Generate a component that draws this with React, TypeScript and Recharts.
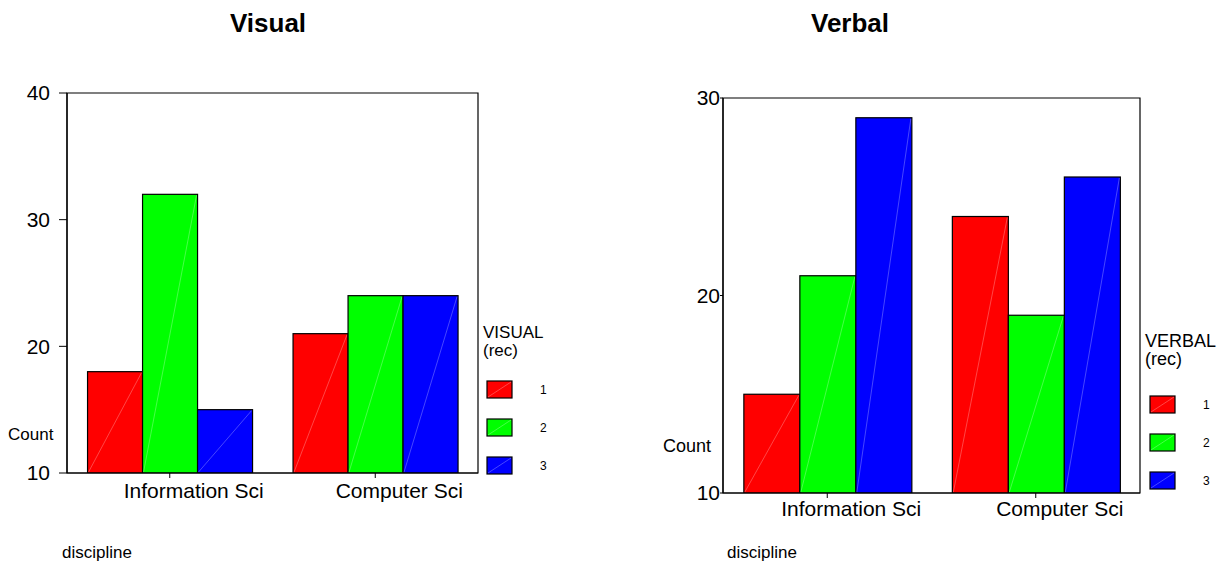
import React from 'react';
import { BarChart, Bar, XAxis, YAxis, ReferenceArea } from 'recharts';

const categories = ['Information Sci', 'Computer Sci'];
const visual1 = [18, 21];
const visual2 = [32, 24];
const visual3 = [15, 24];
const verbal1 = [15, 24];
const verbal2 = [21, 19];
const verbal3 = [29, 26];
const visualTicks = [10, 20, 30, 40];
const verbalTicks = [10, 20, 30];
const legendLabels = ['1', '2', '3'];
const colors = ['#ff0000', '#00ff00', '#0000ff'];

const FONT = '"Liberation Sans", Arial, Helvetica, sans-serif';

const visualData = categories.map((c, i) => ({ name: c, s1: visual1[i], s2: visual2[i], s3: visual3[i] }));
const verbalData = categories.map((c, i) => ({ name: c, s1: verbal1[i], s2: verbal2[i], s3: verbal3[i] }));

const BarShape = (props: any) => {
  const { x, y, width, height, fill } = props;
  if (!width || !height) return <g />;
  return (
    <g>
      <rect x={x} y={y} width={width} height={height} fill={fill} stroke="#000" strokeWidth={1.2} />
      <line x1={x + 1} y1={y + height - 1} x2={x + width - 1} y2={y + 1} stroke="#fff" strokeOpacity={0.35} strokeWidth={0.8} />
    </g>
  );
};

const makeXTick = (dx: number, dy: number) => (p: any) => (
  <text x={p.x + dx} y={p.y + dy} textAnchor="middle" fontSize={21} fontFamily={FONT} fill="#000">
    {p.payload.value}
  </text>
);

type PanelProps = {
  data: any[];
  ticks: number[];
  domain: [number, number];
  margin: { top: number; right: number; bottom: number; left: number };
  width: number;
  left: number;
  yTickSize: number;
  yTickMargin: number;
  xDy: number;
};

const Panel = ({ data, ticks, domain, margin, width, left, yTickSize, yTickMargin, xDy }: PanelProps) => (
  <div style={{ position: 'absolute', left, top: 0 }}>
    <BarChart width={width} height={565} data={data} margin={margin} barCategoryGap="10%" barGap={0}>
      <XAxis
        dataKey="name"
        height={1}
        interval={0}
        tickSize={5}
        tickMargin={0}
        axisLine={{ stroke: '#000', strokeWidth: 1.2 }}
        tickLine={{ stroke: '#000' }}
        tick={makeXTick(24, xDy)}
      />
      <YAxis
        type="number"
        domain={domain}
        ticks={ticks}
        allowDataOverflow
        width={1}
        tickSize={yTickSize}
        tickMargin={yTickMargin}
        axisLine={{ stroke: '#000', strokeWidth: 1.2 }}
        tickLine={{ stroke: '#000' }}
        tick={{ fill: '#000', fontSize: 21, fontFamily: FONT }}
      />
      <ReferenceArea y1={domain[0]} y2={domain[1]} fill="none" fillOpacity={0} stroke="#000" strokeWidth={1.2} />
      <Bar dataKey="s1" fill={colors[0]} shape={BarShape} isAnimationActive={false} />
      <Bar dataKey="s2" fill={colors[1]} shape={BarShape} isAnimationActive={false} />
      <Bar dataKey="s3" fill={colors[2]} shape={BarShape} isAnimationActive={false} />
    </BarChart>
  </div>
);

const LegendBlock = ({ title, x, titleY, swX, swY, labX, size }: any) => (
  <g fontFamily={FONT}>
    <text x={x} y={titleY} fontSize={size} fill="#000">{title}</text>
    <text x={x} y={titleY + 18} fontSize={size} fill="#000">(rec)</text>
    {legendLabels.map((l, i) => (
      <g key={l}>
        <rect x={swX} y={swY + i * 38} width={25} height={17} fill={colors[i]} stroke="#000" strokeWidth={1.2} />
        <line x1={swX + 1} y1={swY + i * 38 + 16} x2={swX + 24} y2={swY + i * 38 + 1} stroke="#fff" strokeOpacity={0.35} strokeWidth={0.8} />
        <text x={labX} y={swY + i * 38 + 13} fontSize={12} fill="#000">{l}</text>
      </g>
    ))}
  </g>
);

export default function App() {
  return (
    <div style={{ position: 'absolute', left: 0, top: 0, width: 1223, height: 565, background: '#fff', overflow: 'hidden' }}>
      <Panel
        data={visualData}
        ticks={visualTicks}
        domain={[10, 40]}
        margin={{ top: 93, right: 122, bottom: 91, left: 66 }}
        width={600}
        left={0}
        yTickSize={8}
        yTickMargin={9}
        xDy={20}
      />
      <Panel
        data={verbalData}
        ticks={verbalTicks}
        domain={[10, 30]}
        margin={{ top: 98, right: 83, bottom: 71, left: 122 }}
        width={623}
        left={600}
        yTickSize={3}
        yTickMargin={0}
        xDy={18}
      />
      <svg width={1223} height={565} style={{ position: 'absolute', left: 0, top: 0, pointerEvents: 'none' }}>
        <text x={268} y={32} textAnchor="middle" fontSize={26} fontWeight="bold" fontFamily={FONT} fill="#000">Visual</text>
        <text x={850} y={32} textAnchor="middle" fontSize={26} fontWeight="bold" fontFamily={FONT} fill="#000">Verbal</text>
        <text x={8} y={440} fontSize={17} fontFamily={FONT} fill="#000">Count</text>
        <text x={663} y={452} fontSize={18} fontFamily={FONT} fill="#000">Count</text>
        <text x={62} y={558} fontSize={17} fontFamily={FONT} fill="#000">discipline</text>
        <text x={727} y={558} fontSize={17} fontFamily={FONT} fill="#000">discipline</text>
        <LegendBlock title="VISUAL" x={483} titleY={338} swX={487} swY={381} labX={540} size={17} />
        <LegendBlock title="VERBAL" x={1145} titleY={347} swX={1150} swY={396} labX={1203} size={18} />
      </svg>
    </div>
  );
}
